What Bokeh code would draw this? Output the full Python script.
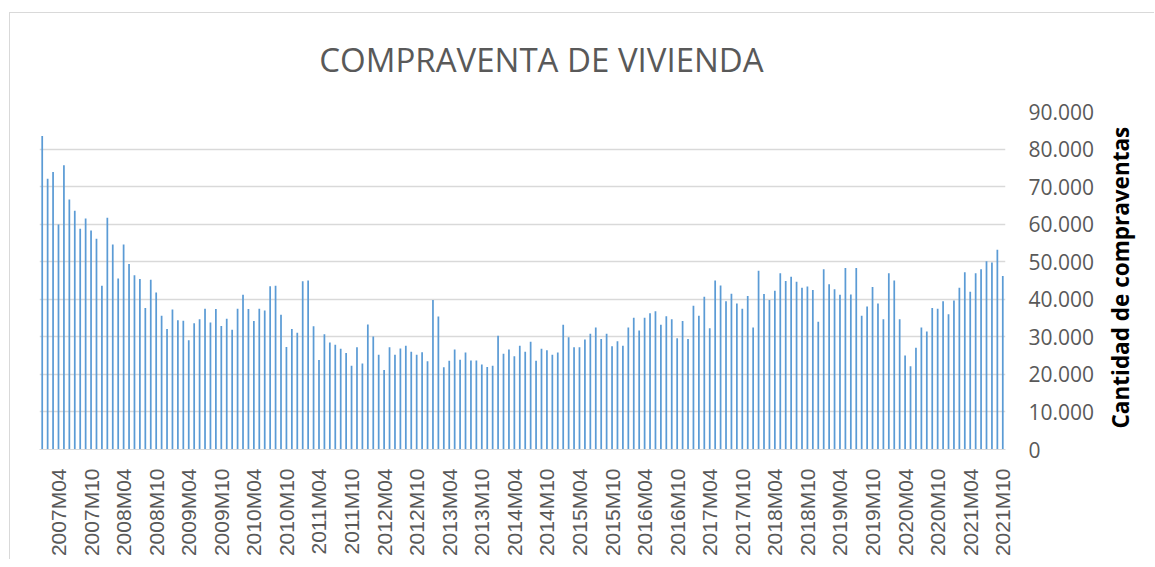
import math
from bokeh.plotting import figure
from bokeh.models import Range1d, FixedTicker, CustomJSTickFormatter, LinearAxis
from bokeh.embed import file_html
from bokeh.resources import INLINE

years = list(range(2007, 2022))
months = [f"{y}M{m:02d}" for y in years for m in range(1, 13)][:178]

values = [
    83500, 72100, 73900, 59900, 75700, 66600, 63600, 58800, 61500, 58300, 56100, 43600,  # 2007
    61700, 54600, 45500, 54600, 49400, 46400, 45400, 37700, 45200, 41800, 35600, 32100,  # 2008
    37300, 34400, 34300, 29100, 33600, 34700, 37500, 33800, 37400, 32900, 34800, 31900,  # 2009
    37500, 41200, 37400, 34200, 37500, 37000, 43500, 43600, 35900, 27300, 32100, 31100,  # 2010
    44800, 45000, 32800, 23800, 30700, 28500, 27900, 26800, 25700, 22300, 27200, 22900,  # 2011
    33300, 30100, 25200, 21200, 27200, 25200, 26900, 27600, 26000, 25200, 25900, 23500,  # 2012
    39800, 35400, 21900, 23600, 26600, 23900, 25800, 23700, 23700, 22600, 22000, 22300,  # 2013
    30300, 25500, 26600, 24800, 27600, 26000, 28700, 23600, 26800, 26400, 25200, 25800,  # 2014
    33200, 29900, 27200, 27200, 29300, 30800, 32500, 29400, 30800, 27500, 28800, 27600,  # 2015
    32500, 35100, 31700, 35100, 36300, 36800, 33200, 35500, 34700, 29600, 34200, 29400,  # 2016
    38300, 35600, 40700, 32300, 45000, 43700, 39500, 41500, 38900, 37500, 40900, 32500,  # 2017
    47600, 41400, 39800, 42300, 46900, 44900, 46000, 44700, 43100, 43400, 42500, 34000,  # 2018
    48000, 44000, 42700, 41200, 48300, 41300, 48300, 35600, 38100, 43300, 38900, 34700,  # 2019
    46900, 45000, 34700, 25000, 22200, 27100, 32500, 31400, 37700, 37500, 39500, 36000,  # 2020
    39700, 43100, 47200, 42000, 46900, 48000, 50100, 49800, 53200, 46200,                # 2021
]

y_ticks = [0, 10000, 20000, 30000, 40000, 50000, 60000, 70000, 80000, 90000]
title_text = "COMPRAVENTA DE VIVIENDA"
y_title = "Cantidad de compraventas"

# anchor positions (layout only) for the title and the rotated axis title
TITLE_ANCHOR_X = 92
YTITLE_ANCHOR_Y = 5600

x = list(range(len(months)))
label_idx = [i for i, m in enumerate(months) if m.endswith("M04") or m.endswith("M10")]

p = figure(width=1145, height=547, output_backend="svg", toolbar_location=None,
           x_range=Range1d(-0.5, len(months) - 0.5), y_range=Range1d(0, 90000),
           y_axis_location="right",
           min_border_left=29, min_border_right=150, min_border_top=98, min_border_bottom=111)
p.margin = (12, 0, 0, 9)
p.styles = {"border-left": "1px solid #d9d9d9", "border-top": "1px solid #d9d9d9"}
p.outline_line_color = None
p.background_fill_color = "white"
p.border_fill_color = "white"
p.title.text = ""

p.vbar(x=x, top=values, width=0.32, color="#5B9BD5", line_color=None)

xa = p.xaxis[0]
xa.ticker = FixedTicker(ticks=label_idx)
xa.major_label_overrides = {i: months[i] for i in label_idx}
xa.major_label_orientation = math.pi / 2
xa.major_label_text_font = "Liberation Sans"
xa.major_label_text_font_size = "21px"
xa.major_label_text_color = "#595959"
xa.major_label_standoff = 13
xa.axis_line_color = "#d9d9d9"
xa.major_tick_line_color = None
xa.minor_tick_line_color = None

ya = p.yaxis[0]
ya.ticker = FixedTicker(ticks=y_ticks)
ya.formatter = CustomJSTickFormatter(code="return Math.round(tick).toString().replace(/\\B(?=(\\d{3})+(?!\\d))/g, '.');")
ya.major_label_text_font = "Open Sans"
ya.major_label_text_font_size = "21px"
ya.major_label_text_color = "#595959"
ya.major_label_standoff = 17
ya.axis_line_color = None
ya.major_tick_line_color = None
ya.minor_tick_line_color = None

# chart title drawn as the single label of an axis above the frame
title_axis = LinearAxis(ticker=FixedTicker(ticks=[TITLE_ANCHOR_X]),
                        major_label_overrides={TITLE_ANCHOR_X: title_text},
                        axis_line_color=None, major_tick_line_color=None,
                        minor_tick_line_color=None,
                        major_label_text_font="Open Sans",
                        major_label_text_font_size="33px",
                        major_label_text_color="#595959",
                        major_label_standoff=24)
p.add_layout(title_axis, "above")

# value-axis title, rotated to read bottom to top
ytitle_axis = LinearAxis(ticker=FixedTicker(ticks=[YTITLE_ANCHOR_Y]),
                         major_label_overrides={YTITLE_ANCHOR_Y: y_title},
                         major_label_orientation=math.pi / 2,
                         axis_line_color=None, major_tick_line_color=None,
                         minor_tick_line_color=None,
                         major_label_text_font="Open Sans",
                         major_label_text_font_size="22.5px",
                         major_label_text_font_style="bold",
                         major_label_text_color="black",
                         major_label_standoff=17)
p.add_layout(ytitle_axis, "right")

p.xgrid.grid_line_color = None
p.ygrid.grid_line_color = "#d9d9d9"
p.ygrid.grid_line_width = 1.5

open("out.html", "w").write(file_html(p, INLINE))
